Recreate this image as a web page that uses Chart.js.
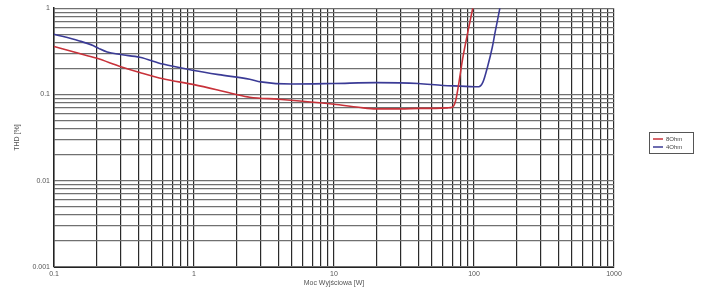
<!DOCTYPE html>
<html>
<head>
<meta charset="utf-8">
<script src="https://cdn.jsdelivr.net/npm/chart.js@4.4.1/dist/chart.umd.min.js"></script>
<style>
  html, body { margin: 0; padding: 0; background: #fff; }
  #wrap { width: 705px; height: 290px; }
</style>
</head>
<body>
<div id="wrap"><canvas id="chart0" width="705" height="290"></canvas></div>
<script>
// moc wyjsciowa [W] / THD [%]
let seriesLabels = ['8Ohm', '4Ohm'];
let seriesColors = ['#c8323a', '#3b3b96'];

let power8 = [0.1, 0.15, 0.2, 0.3, 0.41, 0.6, 1, 1.5, 2, 2.5, 4, 5.7, 10, 15, 20, 30, 41, 50, 65, 70, 74, 77, 83, 91, 98];
let thd8   = [0.36, 0.3, 0.264, 0.21, 0.18, 0.152, 0.13, 0.112, 0.1, 0.093, 0.088, 0.084, 0.077, 0.071, 0.068, 0.068, 0.069, 0.069, 0.07, 0.071, 0.085, 0.12, 0.26, 0.56, 1.0];

let power4 = [0.1, 0.15, 0.19, 0.21, 0.24, 0.3, 0.41, 0.6, 1, 1.5, 2.5, 3, 5, 10, 20, 40, 60, 80, 100, 108, 116, 125, 135, 141, 153];
let thd4   = [0.5, 0.42, 0.37, 0.34, 0.31, 0.29, 0.27, 0.225, 0.19, 0.17, 0.15, 0.14, 0.132, 0.134, 0.137, 0.134, 0.127, 0.125, 0.123, 0.123, 0.14, 0.21, 0.35, 0.51, 1.0];

let xDecades = [0.1, 1, 10, 100, 1000];
let yDecades = [0.001, 0.01, 0.1, 1];

function logTicks(decades) {
    let ticks = [];
    for (let i = 0; i < decades.length; i++) {
        let d = decades[i];
        if (i === decades.length - 1) {
            ticks.push({ value: d, major: true });
            break;
        }
        for (let m = 1; m < 10; m++) {
            ticks.push({ value: parseFloat((d * m).toPrecision(3)), major: m === 1 });
        }
    }
    return ticks;
}

function toPoints(xs, ys) {
    return xs.map((x, i) => ({ x: x, y: ys[i] }));
}

// legend drawn in its own box on the right
const boxLegend = {
    id: 'boxLegend',
    afterDraw(chart) {
        let ctx = chart.ctx;
        let x = 649, y = 132, w = 44, h = 21;
        ctx.save();
        ctx.strokeStyle = '#555';
        ctx.lineWidth = 1;
        ctx.strokeRect(x + 0.5, y + 0.5, w, h);
        ctx.font = '6px "Liberation Sans", Arial, sans-serif';
        ctx.textBaseline = 'middle';
        chart.data.datasets.forEach((ds, i) => {
            let ly = y + 7 + i * 8;
            ctx.strokeStyle = ds.borderColor;
            ctx.lineWidth = 1.5;
            ctx.beginPath();
            ctx.moveTo(x + 4, ly);
            ctx.lineTo(x + 14, ly);
            ctx.stroke();
            ctx.fillStyle = '#444';
            ctx.fillText(ds.label, x + 17, ly);
        });
        ctx.restore();
    }
};

let chart0 = document.getElementById('chart0');

let currentChart = new Chart(chart0, {
    type: 'scatter',
    data: {
        datasets: [
            {
                label: seriesLabels[0],
                data: toPoints(power8, thd8),
                borderColor: seriesColors[0],
                backgroundColor: seriesColors[0],
                borderWidth: 1.6,
                showLine: true,
                pointRadius: 0,
                cubicInterpolationMode: 'monotone'
            },
            {
                label: seriesLabels[1],
                data: toPoints(power4, thd4),
                borderColor: seriesColors[1],
                backgroundColor: seriesColors[1],
                borderWidth: 1.6,
                showLine: true,
                pointRadius: 0,
                cubicInterpolationMode: 'monotone'
            }
        ]
    },
    options: {
        responsive: false,
        animation: false,
        layout: {
            padding: { left: 0, right: 91, top: 8, bottom: 0 }
        },
        plugins: {
            legend: { display: false },
            tooltip: { enabled: false }
        },
        scales: {
            x: {
                type: 'logarithmic',
                min: 0.1,
                max: 1000,
                afterBuildTicks: scale => { scale.ticks = logTicks(xDecades); },
                afterFit: scale => { scale.height = 23; },
                border: { display: true, color: '#222', width: 1 },
                grid: { color: '#2a2a2a', lineWidth: 1.2, drawTicks: false },
                ticks: {
                    autoSkip: false,
                    maxRotation: 0,
                    padding: 3,
                    color: '#555',
                    font: { size: 7, family: 'Liberation Sans' },
                    callback: (value) => xDecades.includes(value) ? String(value) : ''
                },
                title: {
                    display: true,
                    text: 'Moc Wyjściowa [W]',
                    color: '#555',
                    padding: { top: 0, bottom: 3 },
                    font: { size: 7, family: 'Liberation Sans' }
                }
            },
            y: {
                type: 'logarithmic',
                min: 0.001,
                max: 1,
                afterBuildTicks: scale => { scale.ticks = logTicks(yDecades); },
                afterFit: scale => { scale.width = 54; },
                border: { display: true, color: '#222', width: 1.5 },
                grid: { color: '#707070', lineWidth: 1.2, drawTicks: false },
                ticks: {
                    autoSkip: false,
                    padding: 4,
                    color: '#555',
                    font: { size: 7, family: 'Liberation Sans' },
                    callback: (value) => yDecades.includes(value) ? String(value) : ''
                },
                title: {
                    display: true,
                    text: 'THD [%]',
                    color: '#555',
                    padding: { top: 13, bottom: 0 },
                    font: { size: 7, family: 'Liberation Sans' }
                }
            }
        }
    },
    plugins: [boxLegend]
});
</script>
</body>
</html>
